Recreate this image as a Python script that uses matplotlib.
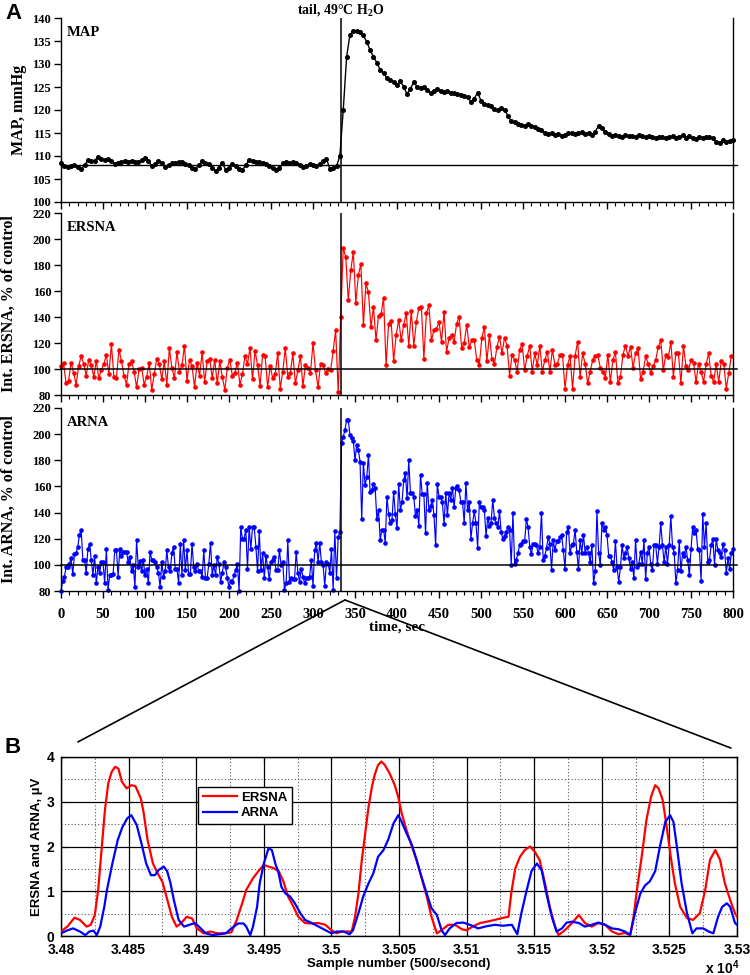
import numpy as np
import matplotlib
matplotlib.use("Agg")
import matplotlib.pyplot as plt
from matplotlib.patches import ConnectionPatch
from matplotlib.ticker import MultipleLocator
import matplotlib.transforms as mtransforms

plt.rcParams['font.family'] = ['Liberation Serif', 'DejaVu Sans']
plt.rcParams['font.weight'] = 'bold'
plt.rcParams['axes.labelweight'] = 'bold'
plt.rcParams['mathtext.fontset'] = 'custom'
plt.rcParams['mathtext.rm'] = 'Liberation Serif:bold'
plt.rcParams['mathtext.bf'] = 'Liberation Serif:bold'
plt.rcParams['mathtext.sf'] = 'Liberation Sans:bold'
SANS = 'Liberation Sans'

# ---------------- panel A data (time in sec) ----------------
stim_time = 333
map_base = 108
nerve_base = 100

map_time = np.arange(0, 801, 4)
map_mmhg = [
    108.5, 107.8, 107.6, 107.8, 108.0, 107.6, 107.2, 108.0, 109.1, 108.9,
    109.0, 109.8, 109.4, 109.2, 109.3, 109.0, 108.3, 108.5, 108.7, 108.9,
    108.8, 109.0, 108.7, 108.6, 109.2, 109.6, 109.0, 107.8, 108.2, 109.0,
    108.4, 107.6, 108.0, 108.4, 108.5, 108.8, 108.6, 108.2, 108.0, 107.5,
    107.2, 108.0, 108.9, 108.5, 108.3, 107.4, 106.7, 107.5, 108.5, 107.0,
    107.4, 108.3, 107.8, 107.2, 107.0, 108.0, 109.2, 109.0, 108.6, 108.8,
    108.4, 108.3, 107.9, 107.5, 107.0, 107.3, 108.4, 108.6, 108.5, 108.7,
    108.4, 108.0, 107.6, 107.8, 108.2, 108.0, 107.8, 108.3, 109.0, 109.4,
    107.2, 107.5, 107.8, 110.0, 120.0, 131.5, 136.4, 137.1, 137.2, 136.9,
    136.2, 134.8, 133.0, 131.6, 130.3, 128.7, 128.0, 127.0, 126.5, 126.0,
    125.4, 126.3, 125.0, 123.5, 124.6, 126.1, 125.0, 124.8, 124.9, 124.3,
    123.8, 124.2, 124.5, 124.2, 124.0, 124.1, 123.8, 123.6, 123.5, 123.3,
    123.0, 122.8, 121.8, 122.5, 123.8, 122.0, 121.3, 121.0, 120.8, 120.3,
    119.9, 120.4, 120.0, 118.8, 117.6, 117.3, 116.9, 116.8, 116.6, 116.9,
    116.6, 116.2, 115.9, 115.6, 115.0, 114.8, 114.9, 114.6, 114.8, 114.4,
    114.6, 114.9, 115.1, 114.7, 114.9, 115.2, 114.8, 115.0, 114.6, 115.3,
    116.6, 116.0, 115.3, 114.8, 114.3, 114.6, 114.4, 114.2, 114.5, 114.3,
    114.4, 114.2, 114.5, 114.3, 114.1, 114.3, 114.2, 114.0, 114.2, 114.1,
    113.9, 114.2, 114.3, 114.0, 114.2, 114.5, 114.0, 114.3, 114.0, 113.8,
    114.1, 114.0, 114.2, 114.1, 113.9, 113.0, 112.9, 113.4, 113.1, 113.3,
    113.5,
]

ersna_time = np.arange(0, 799, 3)
ersna_pct = [
    102, 105, 89, 91, 105, 97, 88, 102, 110, 104,
    95, 107, 103, 94, 106, 93, 99, 104, 111, 96,
    119, 94, 93, 115, 106, 95, 88, 104, 106, 98,
    86, 100, 101, 88, 94, 105, 84, 96, 108, 104,
    92, 106, 88, 116, 101, 93, 113, 98, 103, 118,
    91, 107, 102, 86, 105, 95, 113, 90, 106, 108,
    93, 107, 89, 106, 94, 84, 101, 107, 95, 97,
    105, 88, 96, 110, 104, 116, 92, 114, 103, 87,
    111, 110, 86, 102, 93, 96, 112, 85, 98, 116,
    94, 97, 112, 89, 99, 110, 87, 103, 101, 97,
    120, 99, 86, 104, 103, 97, 100, 99, 114, 130,
    82, 140, 193, 186, 153, 176, 190, 151, 172, 181,
    134, 166, 159, 132, 148, 122, 141, 142, 155, 103,
    135, 137, 106, 126, 138, 122, 134, 143, 118, 145,
    118, 136, 147, 148, 108, 143, 149, 122, 130, 131,
    136, 121, 144, 113, 124, 126, 121, 135, 140, 116,
    120, 134, 117, 122, 122, 107, 103, 124, 132, 106,
    126, 108, 104, 117, 125, 112, 124, 118, 95, 111,
    107, 98, 115, 119, 99, 110, 118, 98, 112, 103,
    118, 98, 107, 113, 98, 115, 103, 104, 111, 111,
    85, 103, 110, 85, 110, 121, 94, 112, 104, 89,
    98, 107, 110, 111, 101, 98, 93, 111, 90, 107,
    113, 89, 94, 111, 118, 110, 117, 101, 112, 116,
    92, 98, 110, 104, 97, 102, 107, 117, 122, 99,
    111, 109, 121, 94, 112, 112, 89, 118, 102, 99,
    107, 105, 90, 104, 98, 90, 104, 112, 95, 90,
    104, 90, 106, 104, 85, 97, 110,
]

arna_time = np.arange(0, 801, 2)
arna_pct = [
    80, 88, 91, 98, 98, 101, 105, 93, 108, 109,
    114, 123, 127, 104, 104, 94, 112, 116, 104, 92,
    107, 86, 98, 94, 102, 102, 86, 112, 81, 92,
    92, 93, 111, 111, 91, 112, 107, 110, 110, 110,
    102, 106, 95, 100, 83, 119, 98, 103, 95, 104,
    92, 97, 86, 110, 104, 104, 102, 98, 94, 83,
    102, 91, 95, 111, 98, 95, 109, 114, 97, 97,
    86, 116, 92, 119, 96, 111, 93, 93, 116, 98,
    95, 101, 95, 95, 91, 111, 90, 90, 101, 117,
    92, 100, 92, 106, 101, 87, 94, 102, 98, 90,
    83, 88, 87, 92, 96, 101, 80, 129, 120, 120,
    127, 97, 129, 112, 129, 129, 114, 95, 126, 96,
    109, 90, 107, 98, 89, 102, 104, 106, 96, 96,
    111, 100, 102, 81, 86, 119, 87, 90, 89, 89,
    110, 94, 87, 97, 91, 86, 90, 90, 91, 104,
    84, 111, 117, 102, 117, 102, 100, 84, 102, 101,
    94, 112, 81, 126, 90, 121, 125, 193, 198, 203,
    211, 211, 199, 197, 195, 180, 192, 188, 179, 135,
    178, 161, 167, 184, 156, 157, 162, 159, 135, 142,
    119, 127, 127, 117, 152, 139, 132, 134, 156, 139,
    128, 162, 142, 148, 165, 170, 151, 180, 155, 155,
    152, 137, 142, 130, 169, 154, 154, 124, 163, 142,
    145, 150, 138, 115, 162, 152, 152, 148, 131, 155,
    138, 155, 150, 159, 144, 159, 160, 157, 148, 148,
    132, 163, 142, 148, 120, 132, 141, 132, 113, 148,
    144, 144, 142, 122, 136, 130, 132, 150, 136, 132,
    129, 141, 125, 120, 122, 125, 129, 127, 100, 140,
    101, 104, 109, 115, 116, 118, 118, 135, 129, 114,
    108, 116, 116, 115, 109, 114, 140, 104, 107, 113,
    121, 116, 96, 119, 111, 118, 118, 121, 123, 111,
    97, 125, 129, 109, 115, 116, 127, 110, 97, 119,
    109, 123, 109, 114, 109, 102, 115, 86, 95, 141,
    109, 100, 132, 127, 129, 123, 107, 107, 102, 96,
    118, 98, 87, 98, 115, 105, 109, 114, 105, 97,
    102, 90, 119, 98, 101, 110, 101, 119, 89, 109,
    114, 101, 96, 115, 115, 101, 114, 132, 115, 102,
    114, 101, 115, 137, 114, 109, 86, 96, 118, 95,
    109, 107, 114, 104, 92, 112, 129, 124, 127, 112,
    111, 88, 139, 114, 132, 102, 104, 115, 120, 100,
    120, 111, 109, 106, 116, 111, 94, 105, 97, 109,
    112,
]

# ---------------- panel B data (sample number, uV) ----------------
b_ersna_x = [
    34800, 34805, 34810, 34814, 34819, 34822, 34825, 34827.5, 34830, 34832.5,
    34835, 34837.5, 34840, 34842.5, 34845, 34848.5, 34852, 34855, 34859, 34861,
    34864, 34868, 34871.5, 34875, 34878, 34882, 34885.5, 34889, 34893, 34897,
    34900.5, 34905.5, 34910.5, 34915.5, 34920, 34926, 34930, 34934, 34937, 34942,
    34946, 34950, 34953.5, 34957, 34961, 34964.5, 34968, 34972, 34975.5, 34980.5,
    34985, 34990.5, 34995.5, 35000, 35004, 35007.5, 35011, 35015, 35017.5, 35020,
    35022.5, 35025, 35027.5, 35030, 35032, 35034.5, 35037, 35039.5, 35043, 35047,
    35049.5, 35052, 35055.5, 35059.5, 35063, 35066.5, 35070.5, 35074, 35078, 35081.5,
    35086.5, 35091.5, 35096.5, 35100, 35105, 35110, 35115, 35121, 35126, 35131,
    35133, 35136, 35139.5, 35143, 35147, 35150.5, 35154, 35158, 35161.5, 35165.5,
    35168, 35171.5, 35175, 35178, 35183, 35187.5, 35192.5, 35197.5, 35202.5, 35207.5,
    35212.5, 35217, 35221, 35223.5, 35226, 35229.5, 35233, 35236.5, 35239.5, 35242,
    35245, 35248, 35251, 35254, 35258, 35263, 35267.5, 35272.5, 35276.5, 35280,
    35284, 35287.5, 35291, 35295, 35298.5, 35300,
]
b_ersna_y = [
    0.10, 0.22, 0.41, 0.36, 0.21, 0.25, 0.47, 1.03, 1.92, 2.82,
    3.42, 3.67, 3.78, 3.74, 3.45, 3.30, 3.37, 3.35, 3.08, 2.78,
    2.15, 1.62, 1.40, 1.21, 0.88, 0.43, 0.21, 0.29, 0.43, 0.39,
    0.17, 0.06, 0.10, 0.06, 0.06, 0.08, 0.36, 0.73, 1.03, 1.29,
    1.45, 1.59, 1.55, 1.52, 1.45, 1.22, 0.88, 0.65, 0.43, 0.29,
    0.28, 0.29, 0.25, 0.13, 0.06, 0.10, 0.10, 0.10, 0.43, 0.95,
    1.70, 2.30, 2.89, 3.34, 3.60, 3.82, 3.90, 3.82, 3.64, 3.36,
    3.10, 2.74, 2.37, 2.00, 1.70, 1.33, 0.88, 0.43, 0.06, 0.13,
    0.25, 0.25, 0.15, 0.13, 0.22, 0.29, 0.32, 0.36, 0.40, 0.43,
    0.95, 1.51, 1.77, 1.92, 2.00, 1.88, 1.70, 1.18, 0.65, 0.21,
    0.02, 0.10, 0.20, 0.29, 0.47, 0.29, 0.21, 0.29, 0.25, 0.10,
    0.04, 0.07, 0.02, 0.43, 1.03, 1.77, 2.59, 3.12, 3.37, 3.30,
    3.04, 2.44, 1.77, 1.18, 0.65, 0.40, 0.36, 0.51, 1.03, 1.70,
    1.92, 1.70, 1.18, 0.80, 0.51, 0.43,
]
b_arna_x = [
    34800, 34805, 34809, 34814, 34818, 34821, 34824, 34826.5, 34829, 34832,
    34834, 34838, 34842, 34845.5, 34849, 34852, 34856, 34859.5, 34863, 34866.5,
    34869.5, 34872, 34876, 34878.5, 34881, 34883.5, 34887, 34891, 34895, 34899,
    34902, 34907, 34912, 34917, 34922, 34926, 34931, 34935, 34937, 34940,
    34942, 34945, 34947, 34950, 34953.5, 34956, 34958.5, 34961, 34963, 34966,
    34969.5, 34973, 34977, 34980.5, 34985.5, 34990.5, 34995.5, 35000, 35004, 35009,
    35013.5, 35016, 35020, 35023.5, 35027.5, 35031, 35034.5, 35038.5, 35042, 35046,
    35049.5, 35052, 35055.5, 35059.5, 35063, 35066.5, 35070.5, 35074, 35078, 35081.5,
    35084, 35087.5, 35092.5, 35097.5, 35102.5, 35108.5, 35115, 35121, 35127, 35133.5,
    35137.5, 35140.5, 35144.5, 35148, 35152, 35155.5, 35159, 35163, 35166.5, 35170.5,
    35174, 35178, 35183, 35187.5, 35192.5, 35197.5, 35202.5, 35207.5, 35212.5, 35217,
    35221, 35224.5, 35228.5, 35232, 35235.5, 35239.5, 35243, 35247, 35250.5, 35253,
    35255.5, 35259, 35263, 35267, 35270, 35275, 35279, 35282.5, 35286, 35289,
    35292.5, 35295, 35298.5, 35300,
]
b_arna_y = [
    0.06, 0.13, 0.17, 0.10, 0.02, 0.10, 0.12, 0.02, 0.21, 0.65,
    1.03, 1.62, 2.15, 2.44, 2.63, 2.70, 2.48, 2.07, 1.62, 1.36,
    1.36, 1.47, 1.55, 1.45, 1.18, 0.80, 0.36, 0.21, 0.25, 0.29,
    0.21, 0.06, 0.02, 0.04, 0.06, 0.17, 0.28, 0.28, 0.21, 0.02,
    0.21, 0.65, 1.18, 1.62, 1.96, 1.92, 1.62, 1.40, 1.10, 0.95,
    0.88, 0.73, 0.51, 0.36, 0.29, 0.21, 0.13, 0.06, 0.10, 0.10,
    0.04, 0.13, 0.51, 0.88, 1.18, 1.40, 1.77, 1.92, 2.15, 2.52,
    2.70, 2.55, 2.30, 2.04, 1.70, 1.33, 0.95, 0.62, 0.47, 0.13,
    0.02, 0.17, 0.29, 0.30, 0.25, 0.17, 0.22, 0.25, 0.23, 0.25,
    0.04, 0.51, 1.03, 1.45, 1.62, 1.47, 0.95, 0.43, 0.10, 0.17,
    0.30, 0.32, 0.29, 0.21, 0.25, 0.30, 0.25, 0.17, 0.15, 0.10,
    0.03, 0.51, 0.95, 1.13, 1.22, 1.45, 2.00, 2.55, 2.70, 2.55,
    2.00, 1.18, 0.51, 0.06, 0.17, 0.17, 0.10, 0.06, 0.43, 0.65,
    0.73, 0.65, 0.29, 0.25,
]
b_ticks = np.arange(34800, 35301, 50)
b_ticklabels = ['3.48', '3.485', '3.49', '3.495', '3.5', '3.505',
                '3.51', '3.515', '3.52', '3.525', '3.53']

# ---------------- figure ----------------
W, H = 750, 975
fig = plt.figure(figsize=(7.5, 9.75), dpi=100)


def box(l, t, r, b):
    return [l / W, 1 - b / H, (r - l) / W, (b - t) / H]


ax_map = fig.add_axes(box(61, 18, 733, 202))
ax_er = fig.add_axes(box(61, 213, 733, 395))
ax_ar = fig.add_axes(box(61, 408, 733, 591))
ax_b = fig.add_axes(box(61, 757, 737, 936))


def style_a(ax, ylim, ystep, ylabel, name, labelx, bottom_labels=False):
    ax.set_xlim(0, 800)
    ax.set_ylim(*ylim)
    ax.spines['top'].set_visible(False)
    for s in ax.spines.values():
        s.set_linewidth(1.0)
    ax.xaxis.set_major_locator(MultipleLocator(50))
    ax.xaxis.set_minor_locator(MultipleLocator(10))
    ax.yaxis.set_major_locator(MultipleLocator(ystep))
    ax.tick_params(axis='x', which='major', direction='out', length=5, width=1,
                   labelsize=10.5, pad=7, labelbottom=bottom_labels)
    ax.tick_params(axis='x', which='minor', direction='out', length=3, width=0.8)
    ax.tick_params(axis='y', direction='out', length=5, width=1, labelsize=9, pad=2)
    ax.set_ylabel(ylabel, fontsize=11.5)
    ax.yaxis.set_label_coords(labelx, 0.5)
    ax.yaxis.label.set_verticalalignment('center')
    ax.text(0.008, 0.955, name, transform=ax.transAxes, fontsize=10.5, va='top', ha='left')
    ax.axvline(stim_time, color='black', lw=1.1, zorder=4)


style_a(ax_map, (100, 140), 5, 'MAP, mmHg', 'MAP', -0.062)
style_a(ax_er, (80, 220), 20, 'Int. ERSNA, % of control', 'ERSNA', -0.078)
style_a(ax_ar, (80, 220), 20, 'Int. ARNA, % of control', 'ARNA', -0.078, True)

ax_map.plot(map_time, map_mmhg, '-o', color='black', ms=2.6, lw=1.0, clip_on=False)
ax_er.plot(ersna_time, ersna_pct, '-o', color='#ff0000', ms=2.3, lw=0.85, clip_on=False)
ax_ar.plot(arna_time, arna_pct, '-o', color='#0000ff', ms=2.3, lw=0.85, clip_on=False)

ax_map.axhline(map_base, xmax=1.006, color='black', lw=1, zorder=4, clip_on=False)
ax_er.axhline(nerve_base, xmax=1.006, color='black', lw=1.1, zorder=4, clip_on=False)
ax_ar.axhline(nerve_base, xmax=1.006, color='black', lw=1.1, zorder=4, clip_on=False)

trans = mtransforms.blended_transform_factory(ax_map.transData, ax_map.transAxes)
ax_map.text(stim_time, 1.0, r'tail, 49°C H$_{\mathrm{2}}$O', transform=trans,
            ha='center', va='bottom', fontsize=10)

ax_ar.set_xlabel('time, sec', fontsize=11, labelpad=0)

fig.text(5 / W, 1 - 3 / H, 'A', fontsize=16, fontfamily=SANS, fontweight='bold', va='top')
fig.text(5 / W, 1 - 737 / H, 'B', fontsize=16, fontfamily=SANS, fontweight='bold', va='top')

# ---------------- panel B ----------------
ax_b.plot(b_ersna_x, b_ersna_y, color='#ff0000', lw=1.6, label='ERSNA', zorder=3)
ax_b.plot(b_arna_x, b_arna_y, color='#0000ff', lw=1.6, label='ARNA', zorder=3)
ax_b.set_xlim(34800, 35300)
ax_b.set_ylim(0, 4)
ax_b.set_xticks(b_ticks)
ax_b.set_xticklabels(b_ticklabels)
ax_b.xaxis.set_minor_locator(MultipleLocator(25))
ax_b.yaxis.set_major_locator(MultipleLocator(1))
ax_b.yaxis.set_minor_locator(MultipleLocator(0.5))
ax_b.set_axisbelow(True)
ax_b.grid(which='major', color='black', lw=0.9, ls='-')
ax_b.grid(which='minor', color='0.35', lw=0.8, ls=(0, (1, 2)))
ax_b.tick_params(which='major', direction='in', length=4, top=True, right=True,
                 labelsize=10)
ax_b.tick_params(axis='x', which='major', pad=5)
ax_b.tick_params(axis='y', which='major', pad=5)
ax_b.tick_params(which='minor', length=0)
for lab in ax_b.get_xticklabels() + ax_b.get_yticklabels():
    lab.set_fontfamily(SANS)
for s in ax_b.spines.values():
    s.set_linewidth(1.0)
ax_b.set_xlabel('Sample number (500/second)', fontsize=9.5, fontfamily=SANS, labelpad=1)
ax_b.set_ylabel('ERSNA and ARNA, µV', fontsize=9.5, fontfamily=SANS)
ax_b.yaxis.set_label_coords(-0.035, 0.5)
ax_b.yaxis.label.set_verticalalignment('center')
ax_b.text(0.953, -0.175, r'x 10$^{\mathsf{4}}$', transform=ax_b.transAxes,
          fontsize=10, fontfamily=SANS, ha='left', va='center')
leg = ax_b.legend(loc='upper left', bbox_to_anchor=(0.203, 0.832), fancybox=False,
                  edgecolor='black', framealpha=1, handlelength=2.6, handletextpad=0.3,
                  borderpad=0.35, labelspacing=0.25, borderaxespad=0,
                  prop={'family': SANS, 'weight': 'bold', 'size': 9.5})
leg.get_frame().set_linewidth(1.0)

# zoom lines from panel A to panel B
for xb, yb in [(0.025, 1.084), (0.991, 1.05)]:
    con = ConnectionPatch(xyA=(0.4226, -0.049), coordsA=ax_ar.transAxes,
                          xyB=(xb, yb), coordsB=ax_b.transAxes,
                          color='black', lw=1.2)
    fig.add_artist(con)

fig.savefig('out.png', dpi=100)
